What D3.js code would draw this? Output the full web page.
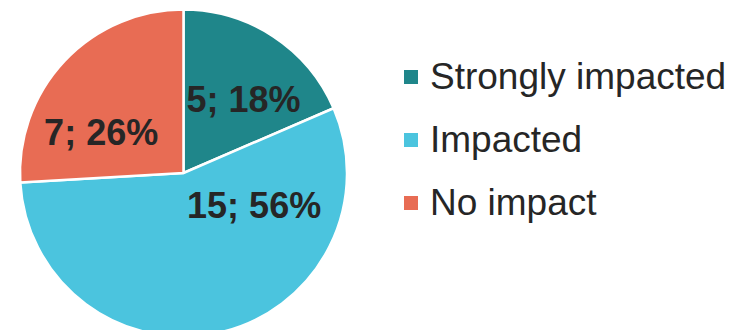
<!DOCTYPE html>
<html><head><meta charset="utf-8">
<script src="https://cdn.jsdelivr.net/npm/d3@7"></script>
<style>body{margin:0;background:#fff;}svg{display:block;font-family:"Liberation Sans",Arial,sans-serif;}</style>
</head><body>
<svg id="c" width="733" height="330"></svg>
<script>
const categories = ["Strongly impacted", "Impacted", "No impact"];
const values = [5, 15, 7];
const percents = [18, 56, 26];
const colors = ["#1F868A", "#4BC4DE", "#E86C54"];
const labelNudge = [[6, 8], [48, -63], [-11, 26]];

const svg = d3.select("#c");
const cx = 183.5, cy = 173, r = 163.5;
const pie = d3.pie().sort(null).value(d => d)(values);
const arc = d3.arc().innerRadius(0).outerRadius(r);
const labelArc = d3.arc().innerRadius(r * 0.6).outerRadius(r * 0.6);

const g = svg.append("g").attr("transform", `translate(${cx},${cy})`);
g.selectAll("path").data(pie).join("path")
  .attr("d", arc).attr("fill", (d, i) => colors[i])
  .attr("stroke", "#fff").attr("stroke-width", 2.5).attr("stroke-linejoin", "round");

g.selectAll("text.lbl").data(pie).join("text").attr("class", "lbl")
  .attr("transform", (d, i) => {
    const c = labelArc.centroid(d);
    return `translate(${c[0] + labelNudge[i][0]},${c[1] + labelNudge[i][1]})`;
  })
  .attr("text-anchor", "middle").attr("dy", "0.36em")
  .attr("font-size", 36).attr("font-weight", "bold").attr("fill", "#262626")
  .text((d, i) => `${d.data}; ${percents[i]}%`);

const leg = svg.append("g").attr("transform", "translate(404,0)");
const rowY = d3.scalePoint().domain(categories).range([89, 215]);
const items = leg.selectAll("g").data(categories).join("g")
  .attr("transform", d => `translate(0,${rowY(d)})`);
items.append("rect").attr("x", 0).attr("y", -19).attr("width", 14).attr("height", 14)
  .attr("fill", (d, i) => colors[i]);
items.append("text").attr("x", 26).attr("y", 0).attr("font-size", 37).attr("fill", "#262626").text(d => d);
</script>
</body></html>
